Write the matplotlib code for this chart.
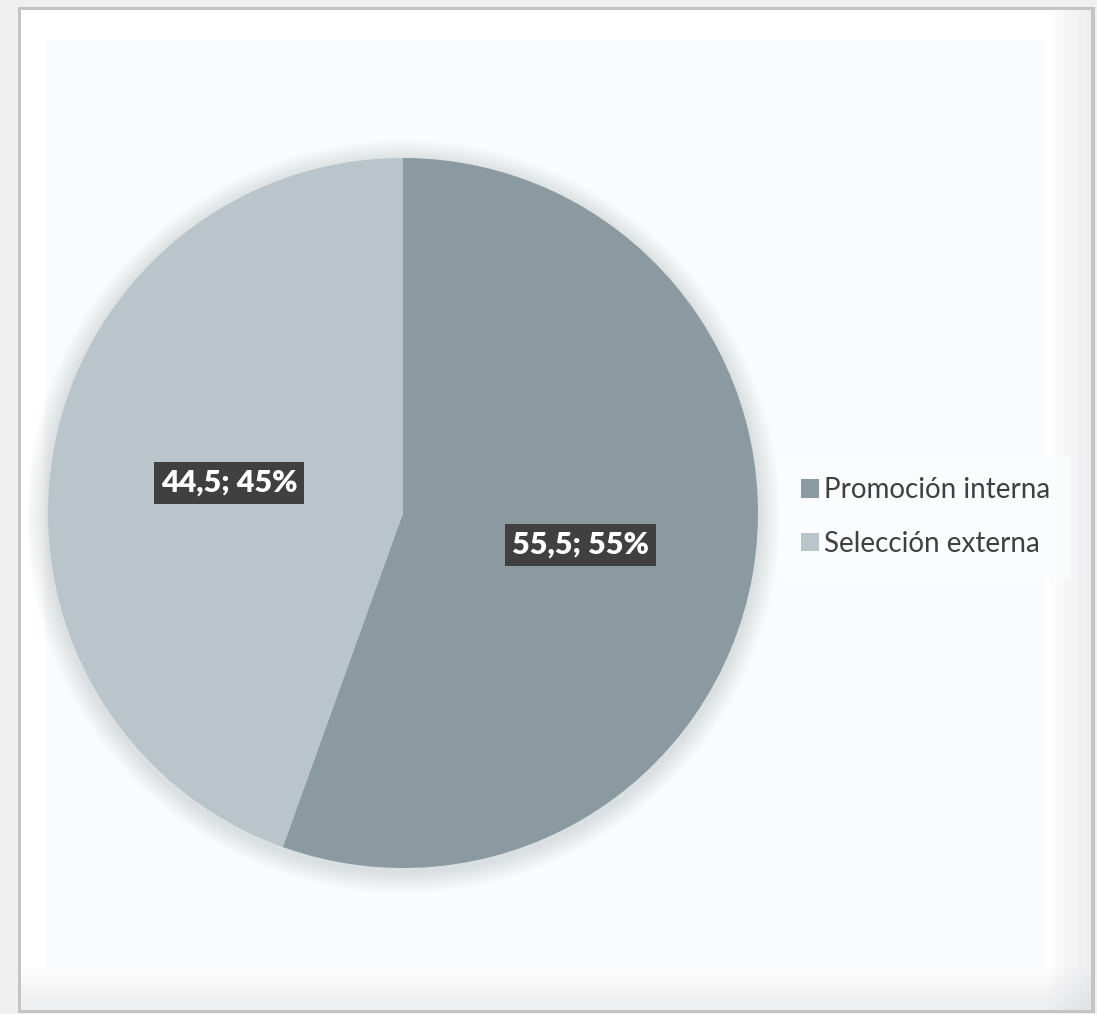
import matplotlib
matplotlib.use("Agg")
from matplotlib import pyplot as plt
import matplotlib.patches as mpatches

# data
categories = ["Promoción interna", "Selección externa"]
values = [55.5, 44.5]
percent_labels = ["55%", "45%"]
colors = ["#8a9aa0", "#b9c5ca"]

W, H = 1097, 1014
fig = plt.figure(figsize=(W / 100, H / 100), dpi=100)
fig.patch.set_facecolor("#f0f0f0")


def fx(px):
    return px / W


def fy(py):
    return 1 - py / H


def frame_rect(x0, y0, x1, y1, **kw):
    # rectangle given in pixel coords (top-left origin)
    fig.patches.append(mpatches.Rectangle((fx(x0), fy(y1)), fx(x1) - fx(x0), fy(y0) - fy(y1),
                                          transform=fig.transFigure, edgecolor="none",
                                          zorder=-5, **kw))


# outer frame with a soft bevel on the right and bottom
frame_rect(18, 7, 1095, 1013, facecolor="#c4c4c4")
frame_rect(21, 10, 1091, 1010, facecolor="#ffffff")
for i in range(6):
    d = 6 + i * 7
    frame_rect(1091 - d, 10, 1091, 1010, facecolor="#a9b3b7", alpha=0.03)
    frame_rect(21, 1010 - d, 1091, 1010, facecolor="#a9b3b7", alpha=0.03)
frame_rect(45, 40, 1045, 970, facecolor="#f8fcfd")

# pie
cx, cy, r = 403, 513, 355
ax = fig.add_axes([fx(cx - r), fy(cy + r), 2 * r / W, 2 * r / H])
ax.set_zorder(2)

wedges, _ = ax.pie(values, colors=colors, startangle=90, counterclock=False, radius=1,
                   wedgeprops=dict(edgecolor="none"))
for w in wedges:
    w.set_zorder(2)

# soft shadow around the pie
for k in range(10):
    ax.add_patch(mpatches.Circle((0.0, -0.01), 1 + 0.006 * (k + 1), facecolor="#7f8c90",
                                 alpha=0.025, edgecolor="none", zorder=0, clip_on=False))

ax.set_xlim(-1, 1)
ax.set_ylim(-1, 1)
ax.set_aspect("equal")
ax.axis("off")

label_pos = [(0.5, -0.09), (-0.49, 0.085)]
for v, p, pos in zip(values, percent_labels, label_pos):
    txt = "{}; {}".format(str(v).replace(".", ","), p)
    ax.text(pos[0], pos[1], txt, ha="center", va="center", fontsize=22, fontweight="heavy",
            color="white", family=["Lato", "DejaVu Sans"], zorder=5,
            bbox=dict(boxstyle="square,pad=0.22", facecolor="#404040", edgecolor="none"))

# legend
handles = [mpatches.Patch(facecolor=c, edgecolor="none") for c in colors]
leg = fig.legend(handles, categories, loc="center left", bbox_to_anchor=(fx(788), fy(517)),
                 frameon=True, handlelength=0.65, handleheight=0.65,
                 handletextpad=0.2, labelspacing=1.0, borderpad=0.45, borderaxespad=0,
                 prop={"family": ["Lato", "DejaVu Sans"], "size": 20})
leg.set_zorder(3)
leg.get_frame().set_facecolor("#fbfdfe")
leg.get_frame().set_edgecolor("none")
leg.get_frame().set_boxstyle("square")
for t in leg.get_texts():
    t.set_color("#404040")

fig.savefig("out.png", dpi=100, facecolor=fig.get_facecolor())
